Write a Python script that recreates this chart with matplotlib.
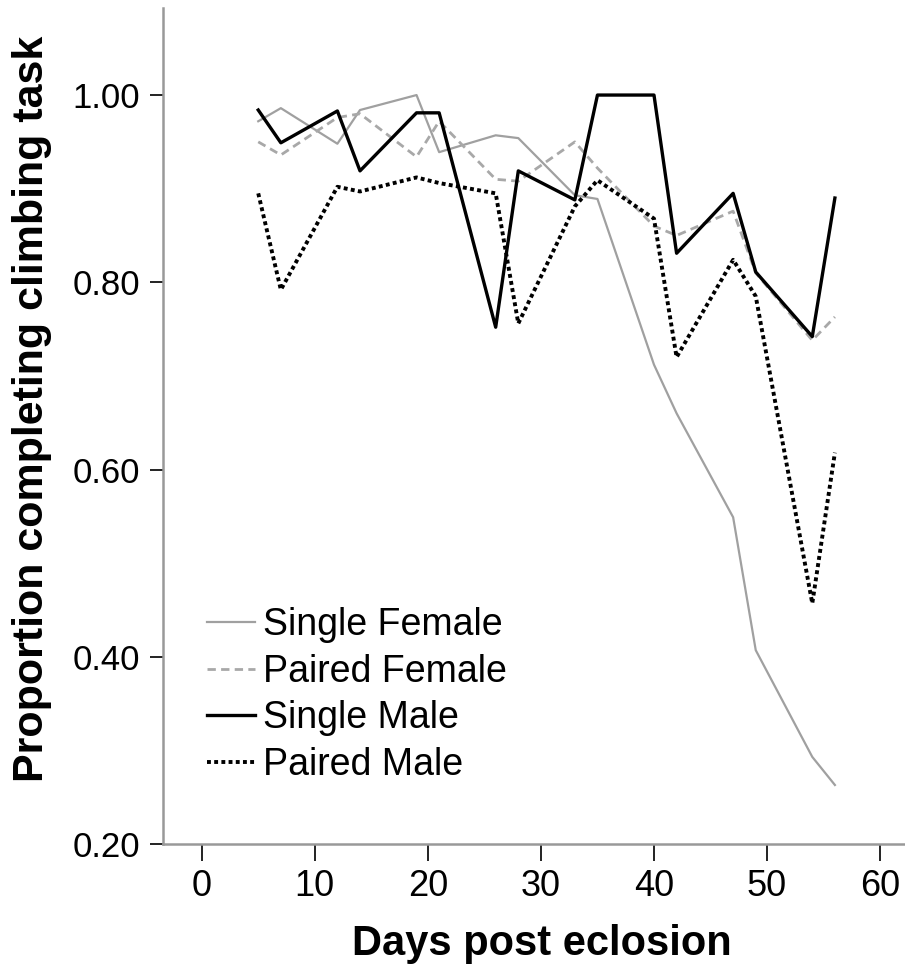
import numpy as np
import matplotlib as mpl
mpl.use('Agg')
import matplotlib.pyplot as plt

plt.rcParams['font.family'] = ['Liberation Sans', 'DejaVu Sans']

# days on which the climbing assay was run
days = [5, 7, 12, 14, 19, 21, 26, 28, 33, 35, 40, 42, 47, 49, 54, 56]

# proportion of flies completing the climb, per group
single_female = [0.972, 0.986, 0.948, 0.984, 1.00, 0.939, 0.957, 0.954,
                 0.893, 0.889, 0.712, 0.660, 0.549, 0.407, 0.293, 0.263]
paired_female = [0.950, 0.936, 0.976, 0.980, 0.934, 0.972, 0.910, 0.908,
                 0.950, 0.922, 0.860, 0.850, 0.876, 0.810, 0.738, 0.763]
single_male = [0.984, 0.949, 0.983, 0.919, 0.981, 0.981, 0.752, 0.919,
               0.888, 1.00, 1.00, 0.831, 0.895, 0.811, 0.742, 0.890]
paired_male = [0.895, 0.792, 0.902, 0.897, 0.912, 0.906, 0.895, 0.756,
               0.881, 0.909, 0.868, 0.720, 0.824, 0.785, 0.457, 0.618]

group_names = ['Single Female', 'Paired Female', 'Single Male', 'Paired Male']
x_ticks = [0, 10, 20, 30, 40, 50, 60]
y_ticks = [0.20, 0.40, 0.60, 0.80, 1.00]

fig = plt.figure(figsize=(9.05, 9.74), dpi=100)
ax = fig.add_axes([0.1804, 0.1335, 0.8196, 0.8583])

ax.plot(days, single_female, color='#a0a0a0', lw=1.6, label=group_names[0])
ax.plot(days, paired_female, color='#a8a8a8', lw=2.0, dashes=(3.0, 1.9),
        label=group_names[1])
ax.plot(days, single_male, color='#000000', lw=2.4, label=group_names[2])
ax.plot(days, paired_male, color='#000000', lw=2.8, dashes=(1.0, 0.85),
        label=group_names[3])

ax.set_xlim(-3.4, 62.2)
ax.set_ylim(0.20, 1.093)
ax.set_xticks(x_ticks)
ax.set_yticks(y_ticks)
ax.set_yticklabels(['%.2f' % v for v in y_ticks])

for s in ['top', 'right']:
    ax.spines[s].set_visible(False)
for s in ['left', 'bottom']:
    ax.spines[s].set_color('#999999')
    ax.spines[s].set_linewidth(1.8)

ax.tick_params(axis='y', direction='out', length=9.5, width=1.4, color='#222222',
               labelsize=25, pad=7)
ax.tick_params(axis='x', direction='out', length=12, width=1.4, color='#222222',
               labelsize=26, pad=6)

ax.set_xlabel('Days post eclosion', fontsize=30, fontweight='bold',
              verticalalignment='center')
ax.xaxis.set_label_coords(0.511, -0.12)
ax.set_ylabel('Proportion completing climbing task', fontsize=31,
              fontweight='bold', verticalalignment='center')
ax.yaxis.set_label_coords(-0.177, 0.52)

leg = ax.legend(loc='upper left', bbox_to_anchor=(0.059, 0.283), frameon=False,
                fontsize=27, handlelength=1.28, handletextpad=0.22,
                labelspacing=0.28, borderpad=0, borderaxespad=0)

fig.savefig('out.png', dpi=100)
